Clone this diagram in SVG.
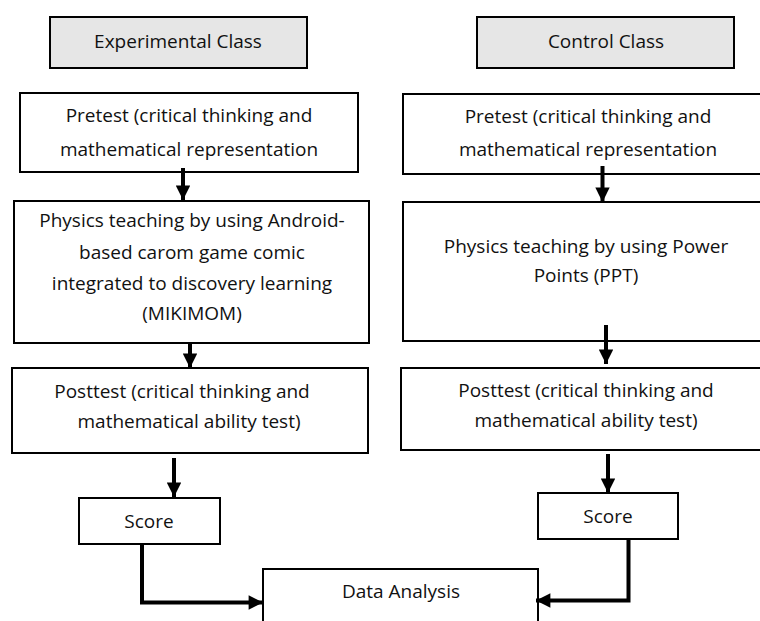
<svg xmlns="http://www.w3.org/2000/svg" width="760" height="621" viewBox="0 0 760 621">
<style>
.box{fill:#fff;stroke:#000;stroke-width:2}
.hdr{fill:#e6e6e6;stroke:#000;stroke-width:2}
text{font-family:"Open Sans","Liberation Sans",sans-serif;font-size:19px;fill:#111;text-anchor:middle}
.ln{fill:none;stroke:#000;stroke-width:4}
</style>
<defs>
<marker id="ah" viewBox="0 0 10 10" refX="10" refY="5" markerWidth="4" markerHeight="3.6" orient="auto" markerUnits="strokeWidth">
<path d="M0,0 L10,5 L0,10 Z" fill="#000"/>
</marker>
</defs>
<rect width="760" height="621" fill="#fff"/>
<g id="exp-class"><rect class="hdr" x="50" y="17" width="257" height="51"/><text x="178" y="48">Experimental Class</text></g>
<g id="ctl-class"><rect class="hdr" x="477" y="17" width="257" height="51"/><text x="606" y="48">Control Class</text></g>
<g id="exp-pretest"><rect class="box" x="20" y="93" width="338" height="79"/><text x="189" y="122">Pretest (critical thinking and</text><text x="189" y="156">mathematical representation</text></g>
<g id="ctl-pretest"><rect class="box" x="403" y="94" width="370" height="80"/><text x="588" y="123">Pretest (critical thinking and</text><text x="588" y="156">mathematical representation</text></g>
<g id="exp-teaching"><rect class="box" x="14" y="201" width="355" height="142"/><text x="192" y="227">Physics teaching by using Android-</text><text x="192" y="259">based carom game comic</text><text x="192" y="290">integrated to discovery learning</text><text x="192" y="320">(MIKIMOM)</text></g>
<g id="ctl-teaching"><rect class="box" x="403" y="202" width="370" height="139"/><text x="586" y="253">Physics teaching by using Power</text><text x="586" y="282">Points (PPT)</text></g>
<g id="exp-posttest"><rect class="box" x="12" y="368" width="356" height="85"/><text x="182" y="398">Posttest (critical thinking and</text><text x="189" y="428">mathematical ability test)</text></g>
<g id="ctl-posttest"><rect class="box" x="401" y="368" width="372" height="82"/><text x="586" y="397">Posttest (critical thinking and</text><text x="586" y="427">mathematical ability test)</text></g>
<g id="exp-score"><rect class="box" x="79" y="498" width="141" height="46"/><text x="149" y="528">Score</text></g>
<g id="ctl-score"><rect class="box" x="538" y="493" width="140" height="46"/><text x="608" y="523">Score</text></g>
<g id="data-analysis"><rect class="box" x="263" y="569" width="275" height="60"/><text x="401" y="598">Data Analysis</text></g>
<g id="connectors">
<line class="ln" x1="183" y1="168" x2="183" y2="200" marker-end="url(#ah)"/>
<line class="ln" x1="190" y1="343" x2="190" y2="368" marker-end="url(#ah)"/>
<line class="ln" x1="174" y1="458" x2="174" y2="497" marker-end="url(#ah)"/>
<line class="ln" x1="602.5" y1="166" x2="602.5" y2="202" marker-end="url(#ah)"/>
<line class="ln" x1="606" y1="325" x2="606" y2="364" marker-end="url(#ah)"/>
<line class="ln" x1="608" y1="454" x2="608" y2="493" marker-end="url(#ah)"/>
<polyline class="ln" points="142,544 142,602.5 263,602.5" marker-end="url(#ah)"/>
<polyline class="ln" points="628.5,539 628.5,600.5 536,600.5" marker-end="url(#ah)"/>
</g>
</svg>
